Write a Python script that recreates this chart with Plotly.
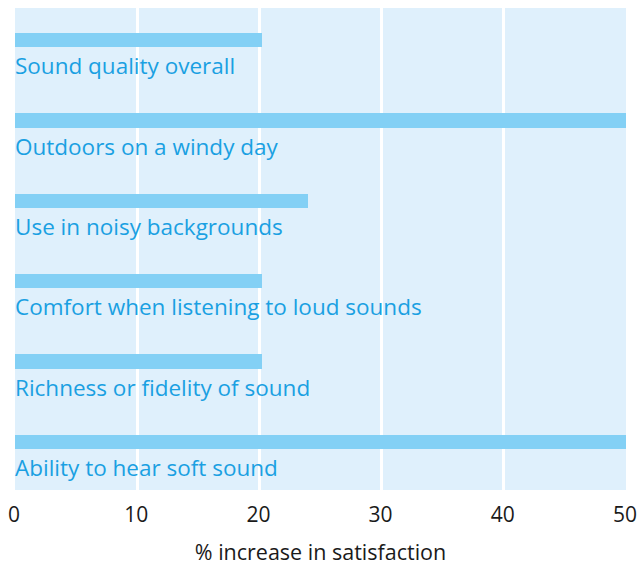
import plotly.graph_objects as go

categories = ["Sound quality overall", "Outdoors on a windy day", "Use in noisy backgrounds",
              "Comfort when listening to loud sounds", "Richness or fidelity of sound",
              "Ability to hear soft sound"]
values = [20.2, 50, 24, 20.2, 20.2, 50]
tick_vals = [0, 10, 20, 30, 40, 50]

pos = list(range(len(categories)))

fig = go.Figure()
fig.add_trace(go.Bar(
    x=values, y=[p - 0.1 for p in pos], orientation="h", width=0.18,
    marker=dict(color="#83d0f5", line=dict(width=0)), hoverinfo="skip",
))
for p, c in zip(pos, categories):
    fig.add_annotation(x=0, y=p + 0.22, text=c, showarrow=False, xanchor="left",
                       yanchor="middle", xshift=-2,
                       font=dict(family="Open Sans", size=22.5, color="#1aa0e2"))

fig.update_layout(
    width=637, height=566, margin=dict(l=15, r=11, t=8, b=76),
    paper_bgcolor="white", plot_bgcolor="#dff0fc", showlegend=False,
    bargap=0,
    xaxis=dict(range=[0, 50], tickvals=tick_vals, showgrid=True, gridcolor="white",
               gridwidth=2.5, zeroline=False, showline=False, automargin=False,
               ticks="outside", ticklen=6, tickcolor="rgba(0,0,0,0)",
               ticklabeloverflow="allow", ticklabelshift=-1,
               tickfont=dict(family="Open Sans", size=21, color="#1a1a1a"),
               title=dict(text="% increase in satisfaction", standoff=17,
                          font=dict(family="Open Sans", size=21.5, color="#1a1a1a"))),
    yaxis=dict(range=[5.5, -0.5], showticklabels=False, showgrid=False, zeroline=False,
               fixedrange=True, automargin=False),
)
fig.write_html("out.html", config={"displayModeBar": False},
               post_script="document.body.style.margin='0';document.body.style.overflow='hidden';")
